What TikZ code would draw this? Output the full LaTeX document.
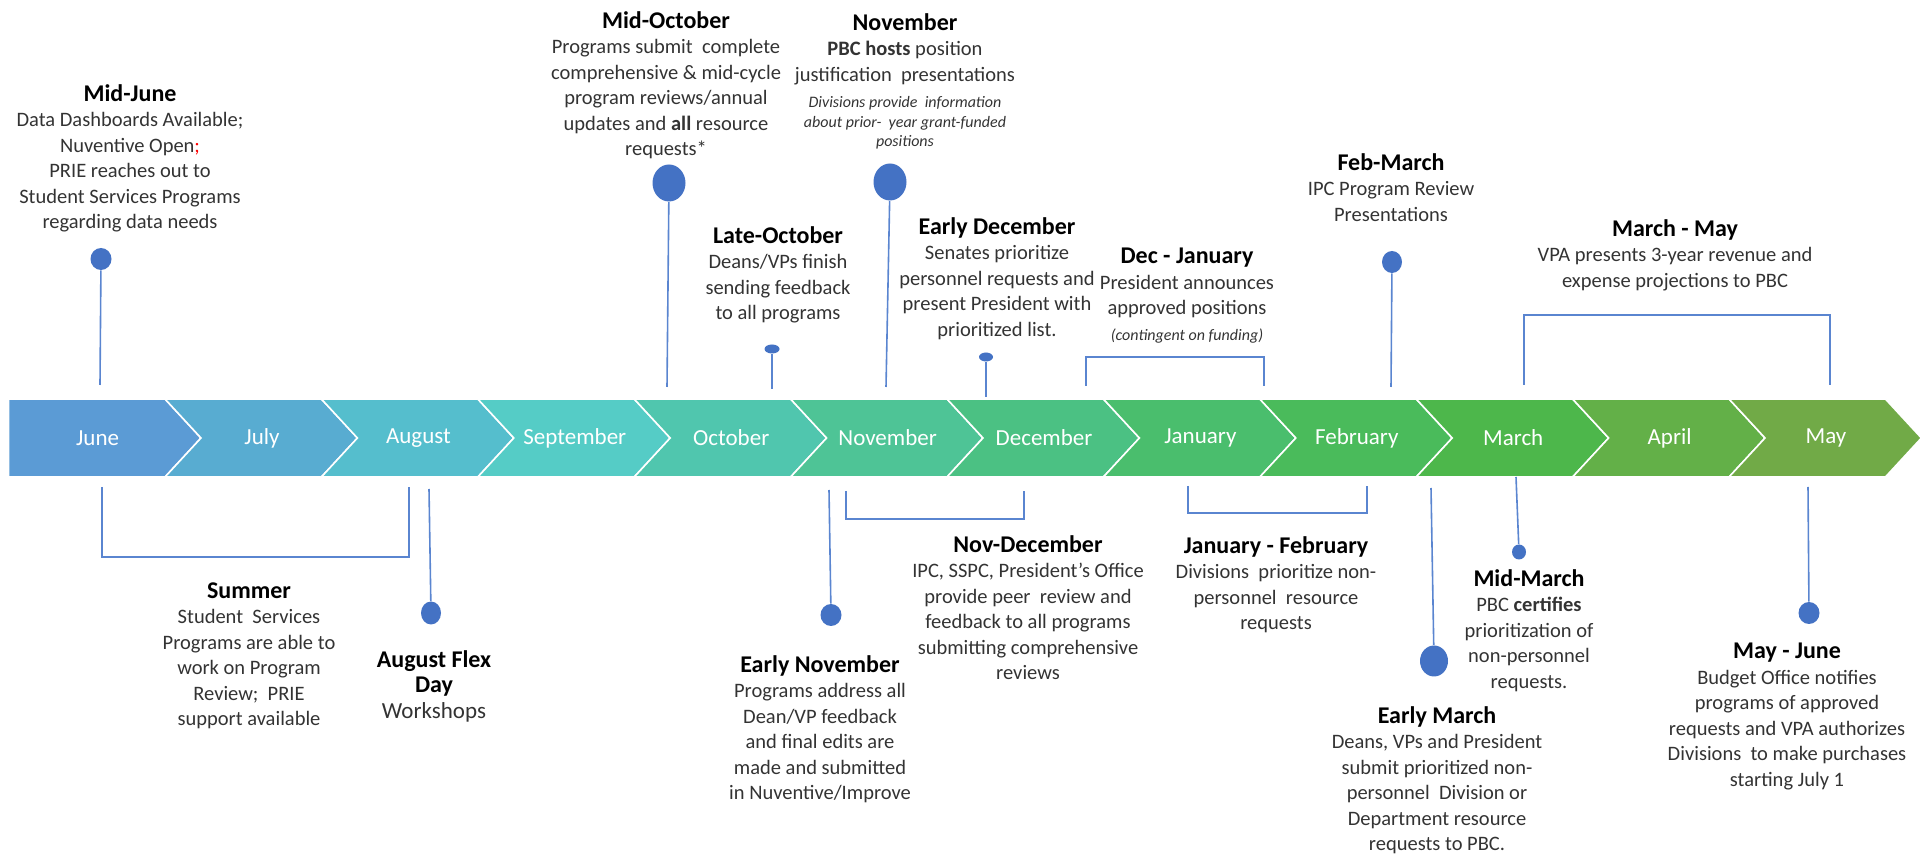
\documentclass[tikz,border=0pt]{standalone}
\usepackage{fontspec}
\setmainfont{Carlito}
\usetikzlibrary{shapes.geometric}
\definecolor{cJun}{HTML}{5B9BD5}
\definecolor{cJul}{HTML}{58ACD1}
\definecolor{cAug}{HTML}{55BECD}
\definecolor{cSep}{HTML}{55CCC6}
\definecolor{cOct}{HTML}{50C6AE}
\definecolor{cNov}{HTML}{4EC496}
\definecolor{cDec}{HTML}{4BC183}
\definecolor{cJan}{HTML}{4ABE6D}
\definecolor{cFeb}{HTML}{4ABB5B}
\definecolor{cMar}{HTML}{4DB74B}
\definecolor{cApr}{HTML}{63B048}
\definecolor{cMay}{HTML}{71AA47}
\definecolor{stemblue}{HTML}{5A85D0}
\definecolor{dotblue}{HTML}{4472C4}
\definecolor{bodygray}{HTML}{333333}
\newcommand{\evhead}[1]{{\fontsize{12}{12.75}\selectfont\bfseries\color{black}#1}}

\begin{document}
\begin{tikzpicture}[x=0.5pt, y=-0.5pt,
    month/.style={text=white, font=\fontsize{11.5}{13}\selectfont},
    event/.style={align=center, anchor=north, inner sep=0pt, text=bodygray,
                  font=\fontsize{10.25}{12.75}\selectfont},
    note/.style={align=center, anchor=north, inner sep=0pt, text=bodygray,
                 font=\fontsize{8}{9.8}\selectfont\itshape},
    dot/.style={ellipse, fill=dotblue, inner sep=0pt},
    stem/.style={draw=stemblue, line width=0.8pt}]

        \useasboundingbox (0,0) rectangle (1927,854);

        % Month band
        \foreach \i/\col/\m in {1/cJun/June, 2/cJul/July, 3/cAug/August,
                4/cSep/September, 5/cOct/October, 6/cNov/November,
                7/cDec/December, 8/cJan/January, 9/cFeb/February,
                10/cMar/March, 11/cApr/April, 12/cMay/May} {
            \pgfmathsetmacro{\s}{8.6+156.4*(\i-1)}
            \pgfmathsetmacro{\nd}{(\i>1)*36}
            \pgfmathsetmacro{\lx}{\s+97-(\i==1)*8}
            \fill[\col, draw=white, line width=0.8pt] (\s,399) -- ({\s+156.4},399)
                -- ({\s+192.4},438) -- ({\s+156.4},477) -- (\s,477)
                -- ({\s+\nd},438) -- cycle;
            \node[month] (m\i) at (\lx,438) {\m};
        }

        % Events above the band
        \node[event] (junetxt) at (130,84) {\evhead{Mid-June}\\Data Dashboards Available;\\Nuventive Open\textcolor{red}{;}\\PRIE reaches out to\\Student Services Programs\\regarding data needs};
        \node[event] (midoct) at (666,11) {\evhead{Mid-October}\\Programs submit\ \ complete\\comprehensive \& mid-cycle\\program reviews/annual\\updates and \textbf{all} resource\\requests*};
        \node[event] (novtxt) at (905,13) {\evhead{November}\\\textbf{PBC hosts} position\\justification\ \ presentations};
        \node[note] (novnote) at (905,96) {Divisions provide\ \ information\\about prior-\ \ year grant-funded\\positions};
        \node[event] (lateoct) at (778,226) {\evhead{Late-October}\\Deans/VPs finish\\sending feedback\\to all programs};
        \node[event] (earlydec) at (997,217) {\evhead{Early December}\\Senates prioritize\\personnel requests and\\present President with\\prioritized list.};
        \node[event] (decjan) at (1187,248) {\evhead{Dec - January}\\President announces\\approved positions\\{\fontsize{8}{12.75}\selectfont\itshape (contingent on funding)}};
        \node[event] (febmar) at (1391,153) {\evhead{Feb-March}\\IPC Program Review\\Presentations};
        \node[event] (marmay) at (1675,219) {\evhead{March - May}\\VPA presents 3-year revenue and\\expense projections to PBC};

        % Events below the band
        \node[event] (summer) at (249,582) {\evhead{Summer}\\Student\ \ Services\\Programs are able to\\work on Program\\Review;\ \ PRIE\\support available};
        \node[event] (augflex) at (434,650) {\evhead{August Flex}\\\evhead{Day}\\{\fontsize{11.5}{12.75}\selectfont Workshops}};
        \node[event] (earlynov) at (820,655) {\evhead{Early November}\\Programs address all\\Dean/VP feedback\\and final edits are\\made and submitted\\in Nuventive/Improve};
        \node[event] (novdec) at (1028,535) {\evhead{Nov-December}\\IPC, SSPC, President’s Office\\provide peer\ \ review and\\feedback to all programs\\submitting comprehensive\\reviews};
        \node[event] (janfeb) at (1276,536) {\evhead{January - February}\\Divisions\ \ prioritize non-\\personnel\ \ resource\\requests};
        \node[event] (earlymar) at (1437,706) {\evhead{Early March}\\Deans, VPs and President\\submit prioritized non-\\personnel\ \ Division or\\Department resource\\requests to PBC.};
        \node[event] (midmar) at (1529,569) {\evhead{Mid-March}\\PBC \textbf{certifies}\\prioritization of\\non-personnel\\requests.};
        \node[event] (mayjun) at (1787,643) {\evhead{May - June}\\Budget Office notifies\\programs of approved\\requests and VPA authorizes\\Divisions\ \ to make purchases\\starting July 1};

        % Dots
        \node[dot, minimum width=10.5pt, minimum height=11pt] (junedot) at (101,259) {};
        \node[dot, minimum width=16.5pt, minimum height=18.5pt] (octdot) at (669,183) {};
        \node[dot, minimum width=16.5pt, minimum height=18.5pt] (novdot) at (890,182) {};
        \node[dot, minimum width=7.5pt, minimum height=4.5pt] (latedot) at (772,349) {};
        \node[dot, minimum width=7pt, minimum height=4.5pt] (decdot) at (986,357) {};
        \node[dot, minimum width=10pt, minimum height=11pt] (febdot) at (1392,262) {};
        \node[dot, minimum width=10pt, minimum height=11.5pt] (augdot) at (431,613) {};
        \node[dot, minimum width=10.5pt, minimum height=11pt] (enovdot) at (831,615) {};
        \node[dot, minimum width=14pt, minimum height=15.5pt] (emardot) at (1434,661) {};
        \node[dot, minimum width=7pt, minimum height=7.5pt] (mmardot) at (1519,552) {};
        \node[dot, minimum width=10.5pt, minimum height=11pt] (maydot) at (1809,613) {};

        % Stem ends
        \coordinate (junefoot) at (100,385);
        \coordinate (octfoot) at (667,387);
        \coordinate (novfoot) at (886,387);
        \coordinate (latefoot) at (772,389);
        \coordinate (decfoot) at (986,397);
        \coordinate (febfoot) at (1391,387);
        \coordinate (augtop) at (429,489);
        \coordinate (enovtop) at (829,490);
        \coordinate (emartop) at (1431,488);
        \coordinate (mmartop) at (1516,477);
        \coordinate (maytop) at (1808,487);

        % Stems
        \draw[stem] (junedot) -- (junefoot);
        \draw[stem] (octdot) -- (octfoot);
        \draw[stem] (novdot) -- (novfoot);
        \draw[stem] (latedot) -- (latefoot);
        \draw[stem] (decdot) -- (decfoot);
        \draw[stem] (febdot) -- (febfoot);
        \draw[stem] (augtop) -- (augdot);
        \draw[stem] (enovtop) -- (enovdot);
        \draw[stem] (emartop) -- (emardot);
        \draw[stem] (mmartop) -- (mmardot);
        \draw[stem] (maytop) -- (maydot);

        % Brackets
        \coordinate (djA) at (1086,386);
        \coordinate (djB) at (1264,357);
        \coordinate (djC) at (1264,386);
        \draw[stem] (djA) |- (djB) -- (djC);
        \coordinate (mmA) at (1524,385);
        \coordinate (mmB) at (1830,315);
        \coordinate (mmC) at (1830,385);
        \draw[stem] (mmA) |- (mmB) -- (mmC);
        \coordinate (suA) at (102,487);
        \coordinate (suB) at (409,557);
        \coordinate (suC) at (409,487);
        \draw[stem] (suA) |- (suB) -- (suC);
        \coordinate (ndA) at (846,491);
        \coordinate (ndB) at (1024,519);
        \coordinate (ndC) at (1024,491);
        \draw[stem] (ndA) |- (ndB) -- (ndC);
        \coordinate (jfA) at (1188,486);
        \coordinate (jfB) at (1367,513);
        \coordinate (jfC) at (1367,486);
        \draw[stem] (jfA) |- (jfB) -- (jfC);

    \end{tikzpicture}
\end{document}
